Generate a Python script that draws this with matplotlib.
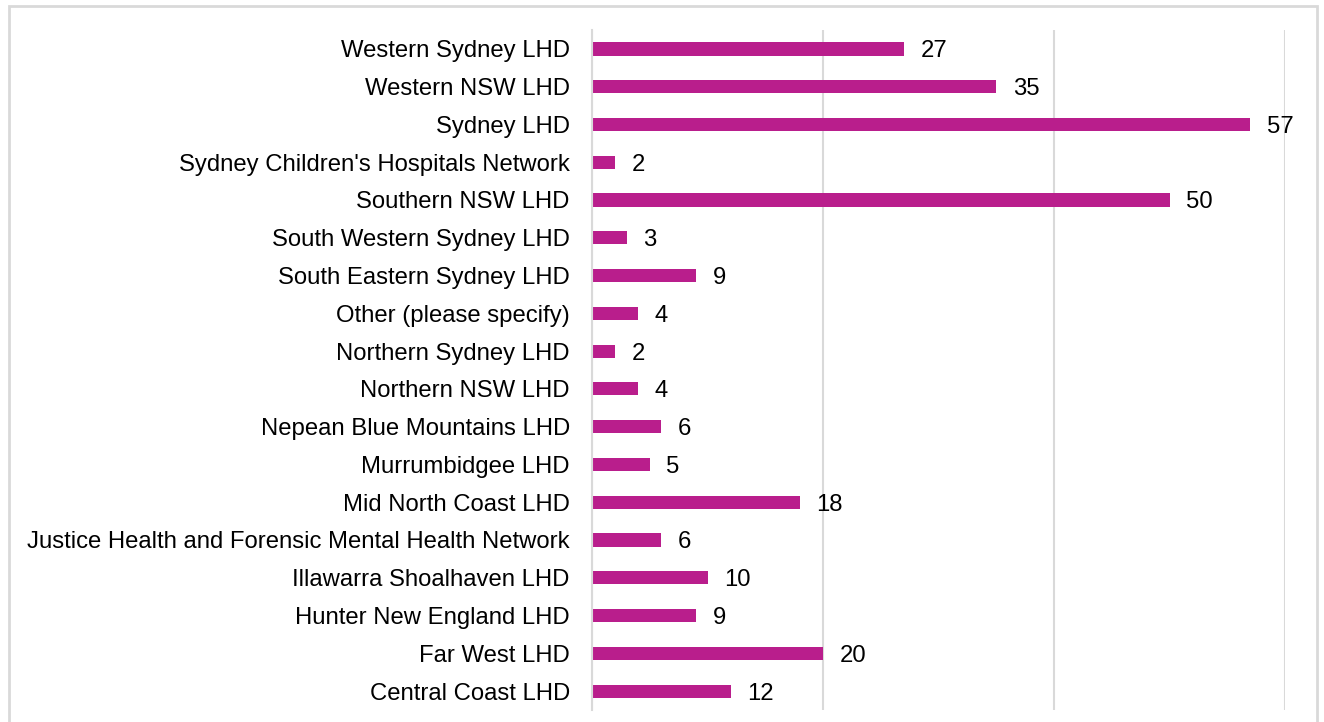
import matplotlib
matplotlib.use("Agg")
import matplotlib.pyplot as plt
from matplotlib.patches import Rectangle

plt.rcParams['font.family'] = ['Liberation Sans', 'DejaVu Sans']

districts = ["Central Coast LHD", "Far West LHD", "Hunter New England LHD",
             "Illawarra Shoalhaven LHD",
             "Justice Health and Forensic Mental Health Network",
             "Mid North Coast LHD", "Murrumbidgee LHD",
             "Nepean Blue Mountains LHD", "Northern NSW LHD",
             "Northern Sydney LHD", "Other (please specify)",
             "South Eastern Sydney LHD", "South Western Sydney LHD",
             "Southern NSW LHD", "Sydney Children's Hospitals Network",
             "Sydney LHD", "Western NSW LHD", "Western Sydney LHD"]
counts = [12, 20, 9, 10, 6, 18, 5, 6, 4, 2, 4, 9, 3, 50, 2, 57, 35, 27]

bar_color = "#B91E8C"
grid_color = "#D9D9D9"
fs = 17.2

fig = plt.figure(figsize=(13.24, 7.22), dpi=100)
ax = fig.add_axes([592/1324, 12/722, (1285-592)/1324, 680/722])

ypos = range(len(districts))
ax.barh(ypos, counts, height=0.35, color=bar_color)
for y, v in zip(ypos, counts):
    ax.annotate(str(v), (v, y), xytext=(12, 0), textcoords="offset points",
                va="center_baseline", ha="left", fontsize=fs, color="#000000")

ax.set_xlim(0, 60)
ax.set_ylim(-0.5, len(districts) - 0.5)
ax.set_yticks(list(ypos))
ax.set_yticklabels(districts, fontsize=fs)
ax.set_xticks([0, 20, 40, 60])
ax.tick_params(axis="y", length=0, pad=16)
ax.tick_params(axis="x", length=0, labelbottom=False)
ax.grid(axis="x", color=grid_color, linewidth=1.5)
ax.set_axisbelow(True)
for s in ["top", "right", "bottom"]:
    ax.spines[s].set_visible(False)
ax.spines["left"].set_color(grid_color)
ax.spines["left"].set_linewidth(1.5)

# outer chart border
fig.patches.append(Rectangle((9/1324, -0.05), (1317-9)/1324, 1.05 - 6/722,
                             transform=fig.transFigure, fill=False,
                             edgecolor=grid_color, linewidth=2))

fig.savefig("out.png", dpi=100)
